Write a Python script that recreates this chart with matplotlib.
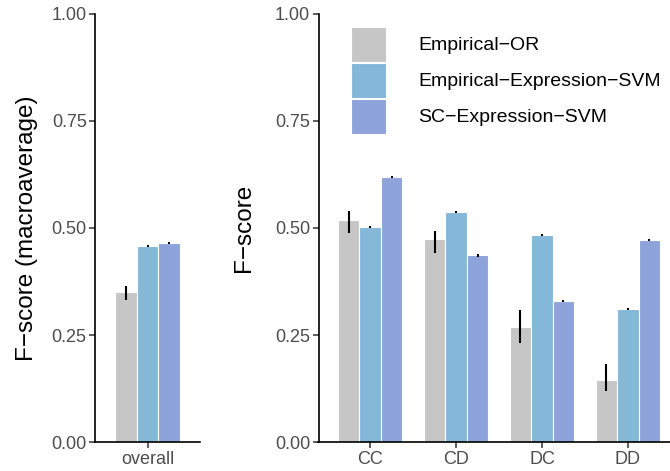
import numpy as np
import matplotlib
matplotlib.use('Agg')
import matplotlib.pyplot as plt

plt.rcParams['font.family'] = ['Liberation Sans', 'DejaVu Sans']

# methods and their fill colours
methods = ['Empirical\u2212OR', 'Empirical\u2212Expression\u2212SVM', 'SC\u2212Expression\u2212SVM']
colors = ['#C6C6C6', '#84B8D8', '#8DA3DA']

# overall macroaverage F-score, one value per method
overall_cat = ['overall']
overall_val = [0.350, 0.458, 0.465]
overall_lo = [0.331, 0.455, 0.462]
overall_hi = [0.364, 0.461, 0.468]

# per-class F-score (rows = method, cols = class)
classes = ['CC', 'CD', 'DC', 'DD']
class_val = [[0.518, 0.474, 0.269, 0.145],
             [0.502, 0.537, 0.483, 0.311],
             [0.619, 0.436, 0.330, 0.472]]
class_lo = [[0.489, 0.442, 0.231, 0.120],
            [0.499, 0.534, 0.480, 0.309],
            [0.617, 0.433, 0.328, 0.469]]
class_hi = [[0.540, 0.493, 0.309, 0.183],
            [0.505, 0.540, 0.486, 0.313],
            [0.621, 0.439, 0.332, 0.475]]

W, H = 670, 471
fig = plt.figure(figsize=(W / 100, H / 100), dpi=100)

y0 = (H - 442.3) / H
yh = 428.8 / H
ax1 = fig.add_axes([95 / W, y0, 105 / W, yh])
ax2 = fig.add_axes([318.5 / W, y0, 361 / W, yh])

bw = 0.25


def draw_bars(ax, cats, vals, lo, hi):
    x = np.arange(1, len(cats) + 1)
    handles = []
    for i in range(3):
        v = np.array(vals[i])
        xi = x + (i - 1) * bw
        b = ax.bar(xi, v, width=bw, color=colors[i], edgecolor='white',
                   linewidth=0.8, label=methods[i], zorder=2)
        handles.append(b)
        ax.errorbar(xi, v, yerr=[v - np.array(lo[i]), np.array(hi[i]) - v],
                    fmt='none', ecolor='black', elinewidth=1.5, capsize=0, zorder=3)
    ax.set_xticks(x)
    ax.set_xticklabels(cats)
    ax.set_xlim(0.4, len(cats) + 0.6)
    ax.set_ylim(0, 1)
    ax.set_yticks([0, 0.25, 0.5, 0.75, 1.0])
    ax.set_yticklabels(['0.00', '0.25', '0.50', '0.75', '1.00'])
    for s in ['top', 'right']:
        ax.spines[s].set_visible(False)
    for s in ['left', 'bottom']:
        ax.spines[s].set_linewidth(1.2)
        ax.spines[s].set_color('black')
    ax.tick_params(axis='both', length=4, width=1.1, color='#333333',
                   labelsize=13, labelcolor='#4D4D4D', pad=2)
    return handles


draw_bars(ax1, overall_cat, [[v] for v in overall_val],
          [[v] for v in overall_lo], [[v] for v in overall_hi])
handles = draw_bars(ax2, classes, class_val, class_lo, class_hi)

ax1.set_ylabel('F\u2212score (macroaverage)', fontsize=17.5)
ax1.yaxis.set_label_coords((38 - 95) / 105, 0.5)
ax2.set_ylabel('F\u2212score', fontsize=17.5)
ax2.yaxis.set_label_coords((255 - 318.5) / 361, 0.5)

fig.legend(handles=handles, labels=methods, loc='upper left',
           bbox_to_anchor=(351 / W, 1 - 27 / H), frameon=False,
           fontsize=14, handlelength=1.8, handleheight=2.39,
           labelspacing=0.05, handletextpad=1.65, borderpad=0, borderaxespad=0)

fig.savefig('out.png', dpi=100)
